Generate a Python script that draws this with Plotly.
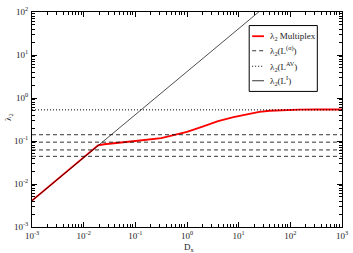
import plotly.graph_objects as go

# Data
D_red = [1e-3, 0.019, 0.025, 10**-1.5, 0.05, 0.1, 10**-0.5, 0.5, 1.0, 2.0, 10**0.4, 4.0, 10**0.9, 15.0, 10**1.4, 40.0, 10**1.9, 150.0, 10**2.5, 1e3]
lam_red = [0.0041, 0.079, 0.084, 0.087, 0.092, 0.100, 0.117, 0.135, 0.163, 0.215, 0.235, 0.29, 0.36, 0.42, 0.475, 0.505, 0.525, 0.535, 0.54, 0.54]

D_line = [1e-3, 1e3]
lam_I = [0.0041, 4100.0]                 # lambda2(L^I), slope 1
lam_alpha = [0.14, 0.094, 0.062, 0.044]  # lambda2(L^(alpha)) dashed lines
lam_AV = 0.53                            # lambda2(L^AV) dotted line

x_ticks = [1e-3, 1e-2, 1e-1, 1e0, 1e1, 1e2, 1e3]
x_ticktext = ["10<sup>-3</sup>", "10<sup>-2</sup>", "10<sup>-1</sup>", "10<sup>0</sup>",
              "10<sup>1</sup>", "10<sup>2</sup>", "10<sup>3</sup>"]
y_ticks = [1e-3, 1e-2, 1e-1, 1e0, 1e1, 1e2]
y_ticktext = ["10<sup>-3</sup>", "10<sup>-2</sup>", "10<sup>-1</sup>", "10<sup>0</sup>",
              "10<sup>1</sup>", "10<sup>2</sup>"]

legend_names = ["λ<sub>2</sub> Multiplex", "λ<sub>2</sub>(L<sup>(α)</sup>)",
                "λ<sub>2</sub>(L<sup>AV</sup>)", "λ<sub>2</sub>(L<sup>I</sup>)"]

FONT = "Liberation Serif"
TXT = "#222"

def minors(lo, hi):
    return [m * 10.0 ** e for e in range(lo, hi) for m in range(2, 10)]

fig = go.Figure()
fig.add_trace(go.Scatter(x=D_red, y=lam_red, mode="lines", line=dict(color="red", width=1.8),
                         name=legend_names[0], showlegend=False))
for v in lam_alpha:
    fig.add_trace(go.Scatter(x=D_line, y=[v, v], mode="lines", line=dict(color="black", width=0.8, dash="4px,3px"),
                             showlegend=False))
fig.add_trace(go.Scatter(x=D_line, y=[lam_AV, lam_AV], mode="lines", line=dict(color="black", width=1, dash="1px,2px"),
                         showlegend=False))
# diagonal drawn on the overlay (minor-tick) axes, which share identical ranges
fig.add_trace(go.Scatter(x=D_line, y=lam_I, mode="lines", line=dict(color="black", width=0.7),
                         showlegend=False, xaxis="x2", yaxis="y2"))

major = dict(type="log", showgrid=False, zeroline=False, showline=True, linecolor="black", linewidth=1,
             mirror="allticks", ticks="inside", ticklen=5, tickcolor="black", tickwidth=1,
             tickfont=dict(family=FONT, size=9, color=TXT), ticklabeloverflow="allow")
minor_ax = dict(type="log", showgrid=False, zeroline=False, showline=False, mirror="allticks",
                ticks="inside", ticklen=3, tickcolor="black", tickwidth=1, showticklabels=False)

W, H = 353, 253
L, R, T, B = 32, 7, 5, 26
pw, ph = W - L - R, H - T - B
def px(x): return (x - L) / pw
def py(y): return 1 - (y - T) / ph

fig.update_layout(
    xaxis=dict(**major, range=[-3, 3], tickvals=x_ticks, ticktext=x_ticktext, ticklabelstandoff=0),
    yaxis=dict(**major, range=[-3, 2], tickvals=y_ticks, ticktext=y_ticktext, ticklabelstandoff=1),
    xaxis2=dict(**minor_ax, range=[-3, 3], tickvals=minors(-3, 3), overlaying="x", anchor="y2", side="bottom"),
    yaxis2=dict(**minor_ax, range=[-3, 2], tickvals=minors(-3, 2), overlaying="y", anchor="x2", side="left"),
)

# custom legend
shapes = [dict(type="rect", xref="paper", yref="paper", x0=px(252), x1=px(321), y0=py(87), y1=py(19),
               line=dict(color="black", width=1), fillcolor="white", layer="above")]
styles = [dict(color="red", width=1.8), dict(color="black", width=0.8, dash="4px,3px"),
          dict(color="black", width=1, dash="1px,2px"), dict(color="black", width=0.8)]
ys = [30, 45, 61, 76]
annotations = []
for name, st, yy in zip(legend_names, styles, ys):
    shapes.append(dict(type="line", xref="paper", yref="paper", x0=px(255), x1=px(267), y0=py(yy), y1=py(yy),
                       line=st, layer="above"))
    annotations.append(dict(xref="paper", yref="paper", x=px(271), y=py(yy), xanchor="left", yanchor="middle",
                            text=name, showarrow=False, font=dict(family=FONT, size=9, color=TXT)))
annotations.append(dict(xref="paper", yref="paper", x=px(192), y=py(240), xanchor="center", yanchor="top",
                        text="D<sub>x</sub>", showarrow=False, font=dict(family=FONT, size=9, color=TXT)))
annotations.append(dict(xref="paper", yref="paper", x=px(8), y=py(113), xanchor="center", yanchor="middle",
                        text="λ<sub>2</sub>", textangle=-90, showarrow=False, font=dict(family=FONT, size=9, color=TXT)))

fig.update_layout(
    width=W, height=H,
    margin=dict(l=L, r=R, t=T, b=B),
    paper_bgcolor="white", plot_bgcolor="white",
    showlegend=False,
    shapes=shapes, annotations=annotations,
    font=dict(family=FONT),
)

fig.write_html("out.html", config={"displayModeBar": False},
               post_script="document.body.style.margin='0';document.body.style.padding='0';")
